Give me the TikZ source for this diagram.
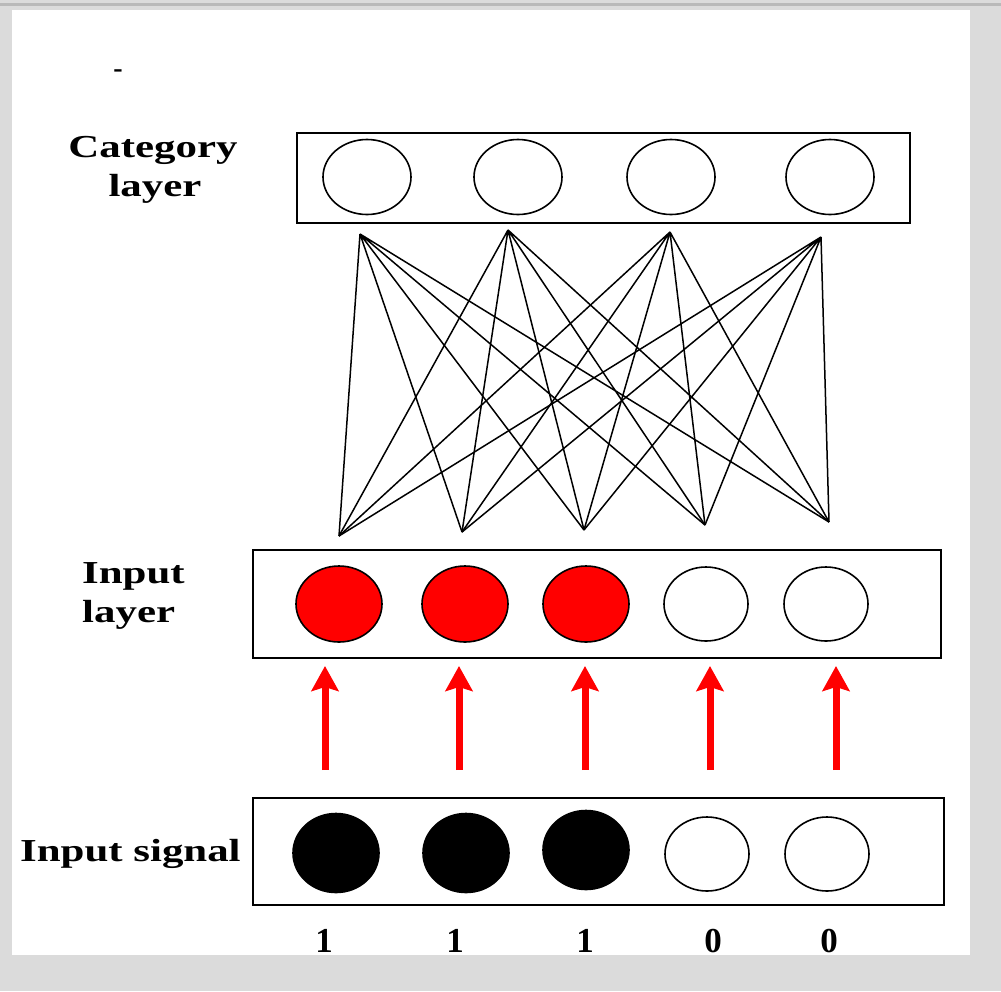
\documentclass[tikz,border=0pt]{standalone}
\usepackage{fontspec}
\setmainfont{Liberation Serif}
\usepackage{graphicx}
\usepackage{tikz}
\usetikzlibrary{arrows.meta,shapes.geometric,positioning}
\tikzstyle{layerbox} = [rectangle, draw, line width=2pt, inner sep=0pt]
\tikzstyle{unit} = [ellipse, draw, line width=1.6pt, fill=white, inner sep=0pt,
    minimum width=86pt, minimum height=76pt]
\tikzstyle{redunit} = [unit, fill=red]
\tikzstyle{blackunit} = [unit, fill=black]
\tikzstyle{label} = [inner sep=0pt, font=\fontsize{32}{36}\selectfont\bfseries]
\tikzstyle{bit} = [inner sep=0pt, anchor=base, font=\fontsize{35}{38}\selectfont\bfseries]
\tikzstyle{weight} = [line width=1.5pt]
\tikzstyle{sigarrow} = [draw=red, line width=7pt,
    -{Stealth[width=27pt,length=25pt,inset=4pt]}, shorten >=7pt]
\newcommand{\wide}[1]{\scalebox{1.34}[1]{#1}}

\begin{document}
\begin{tikzpicture}[x=1pt,y=-1pt]
  % Marble frame and white sheet
  \fill[gray!28] (0,0) rectangle (1001,991);
  \fill[gray!55] (0,3) rectangle (1001,6);
  \fill[white] (12,10) rectangle (970,955);
  \useasboundingbox (0,0) rectangle (1001,991);

  % Place boxes
  \node [layerbox, minimum width=613pt, minimum height=90pt] (catbox) at (603.5,178) {};
  \node [layerbox, minimum width=688pt, minimum height=108pt] (inbox) at (597,604) {};
  \node [layerbox, minimum width=691pt, minimum height=107pt] (sigbox) at (598.5,851.5) {};

  % Place units
  \node [unit, minimum width=88pt, minimum height=75pt] (c1) at (367,177) {};
  \node [unit, minimum width=88pt, minimum height=75pt] (c2) at (518,177) {};
  \node [unit, minimum width=88pt, minimum height=75pt] (c3) at (671,177) {};
  \node [unit, minimum width=88pt, minimum height=75pt] (c4) at (830,177) {};

  \node [redunit] (i1) at (339,604) {};
  \node [redunit] (i2) at (465,604) {};
  \node [redunit] (i3) at (586,604) {};
  \node [unit, minimum width=84pt, minimum height=74pt] (i4) at (706,604) {};
  \node [unit, minimum width=84pt, minimum height=74pt] (i5) at (826,604) {};

  \node [blackunit, minimum height=79pt] (s1) at (336,853) {};
  \node [blackunit, minimum height=79pt] (s2) at (466,853) {};
  \node [blackunit, minimum height=79pt] (s3) at (586,850) {};
  \node [unit, minimum width=84pt, minimum height=74pt] (s4) at (707,854) {};
  \node [unit, minimum width=84pt, minimum height=74pt] (s5) at (827,854) {};

  % Labels
  \node [label, anchor=base] (catname) at (153,157) {\wide{Category}};
  \node [label, anchor=base] (catname2) at (155,196) {\wide{layer}};
  \node [label, anchor=base west] (inname) at (82,583) {\wide{Input}};
  \node [label, anchor=base west] (inname2) at (82,622) {\wide{layer}};
  \node [label, anchor=base west] (signame) at (20,861) {\wide{Input signal}};
  \node [label, anchor=base, font=\fontsize{28}{30}\selectfont\bfseries] (dash) at (118,77) {-};

  % Signal values
  \node [bit] (b1) at (324,952) {1};
  \node [bit] (b2) at (455,952) {1};
  \node [bit] (b3) at (585,952) {1};
  \node [bit] (b4) at (713,952) {0};
  \node [bit] (b5) at (829,952) {0};

  % Ends of the weights
  \coordinate (t1) at (360,234);
  \coordinate (t2) at (508,230);
  \coordinate (t3) at (670,232);
  \coordinate (t4) at (821,237);
  \coordinate (d1) at (339,536);
  \coordinate (d2) at (462,532);
  \coordinate (d3) at (584,530);
  \coordinate (d4) at (705,525);
  \coordinate (d5) at (829,522);

  % Draw weights
  \draw[weight] (t1) -- (d1) (t1) -- (d2) (t1) -- (d3) (t1) -- (d4) (t1) -- (d5);
  \draw[weight] (t2) -- (d1) (t2) -- (d2) (t2) -- (d3) (t2) -- (d4) (t2) -- (d5);
  \draw[weight] (t3) -- (d1) (t3) -- (d2) (t3) -- (d3) (t3) -- (d4) (t3) -- (d5);
  \draw[weight] (t4) -- (d1) (t4) -- (d2) (t4) -- (d3) (t4) -- (d4) (t4) -- (d5);

  % Draw signal arrows
  \coordinate (a1) at (325,770);
  \coordinate (a2) at (459,770);
  \coordinate (a3) at (585,770);
  \coordinate (a4) at (710,770);
  \coordinate (a5) at (836,770);
  \draw[sigarrow] (a1) -- (a1 |- inbox.south);
  \draw[sigarrow] (a2) -- (a2 |- inbox.south);
  \draw[sigarrow] (a3) -- (a3 |- inbox.south);
  \draw[sigarrow] (a4) -- (a4 |- inbox.south);
  \draw[sigarrow] (a5) -- (a5 |- inbox.south);
\end{tikzpicture}
\end{document}
